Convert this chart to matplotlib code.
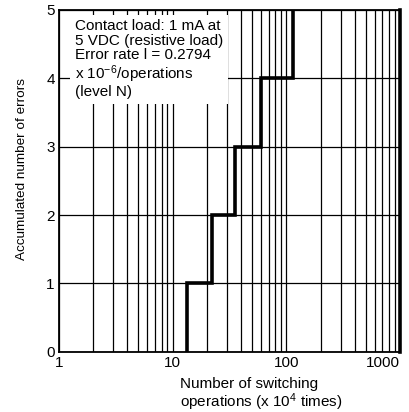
import matplotlib
matplotlib.use("Agg")
import matplotlib.pyplot as plt
from matplotlib.ticker import FixedLocator, NullFormatter

plt.rcParams['font.family'] = ['Liberation Sans', 'DejaVu Sans']
plt.rcParams['mathtext.fontset'] = 'custom'
plt.rcParams['mathtext.rm'] = 'Liberation Sans'
plt.rcParams['mathtext.it'] = 'Liberation Sans:italic'
plt.rcParams['mathtext.bf'] = 'Liberation Sans:bold'

# switching operations (x 10^4) at which each error occurred
failure_ops = [13.3, 22, 35.7, 60.4, 115]
error_counts = [1, 2, 3, 4, 5]

x_ticks = [1, 10, 100, 1000]
x_tick_labels = ["1", "10", "100", "1000"]
y_ticks = [0, 1, 2, 3, 4, 5]

note = ("Contact load: 1 mA at\n5 VDC (resistive load)\nError rate l = 0.2794\n"
        "x 10$^{\\mathrm{-6}}$/operations\n(level N)")

fig = plt.figure(figsize=(4.09, 4.12), dpi=100)
ax = fig.add_axes([0.144, 0.146, 0.834, 0.830])

# step curve, starting from zero errors
steps_x = [failure_ops[0]] + failure_ops
steps_y = [0] + error_counts
ax.step(steps_x, steps_y, where='post', color='black', lw=2.6, zorder=4,
        solid_joinstyle='miter')

ax.set_xscale('log')
ax.set_xlim(1, 1000)
ax.set_ylim(0, 5)

ax.set_xticks(x_ticks)
ax.set_xticklabels(x_tick_labels)
minor = [m * d for d in [1, 10, 100] for m in range(2, 10)]
ax.xaxis.set_minor_locator(FixedLocator(minor))
ax.xaxis.set_minor_formatter(NullFormatter())
ax.set_yticks(y_ticks)

ax.grid(True, which='both', axis='x', color='black', lw=0.9)
ax.grid(True, which='major', axis='y', color='black', lw=0.9)
ax.tick_params(which='both', length=0, labelsize=11, pad=3)
ax.get_xticklabels()[-1].set_ha('right')

for side in ['left', 'top', 'bottom']:
    ax.spines[side].set_linewidth(1.3)
ax.spines['right'].set_linewidth(2.6)

ax.text(0.047, 0.972, note, transform=ax.transAxes, ha='left', va='top',
        fontsize=11, linespacing=1.04, zorder=5,
        bbox=dict(facecolor='white', edgecolor='none', pad=3.5))

ax.set_xlabel("Number of switching\noperations (x 10$^{4}$ times)",
              fontsize=11, ha='left', linespacing=1.0)
ax.xaxis.set_label_coords(0.355, -0.075, transform=ax.transAxes)
ax.xaxis.label.set_va('top')
ax.set_ylabel("Accumulated number of errors", fontsize=9.7)
ax.yaxis.set_label_coords(-0.092, 0.535)

fig.savefig("out.png", dpi=100)
